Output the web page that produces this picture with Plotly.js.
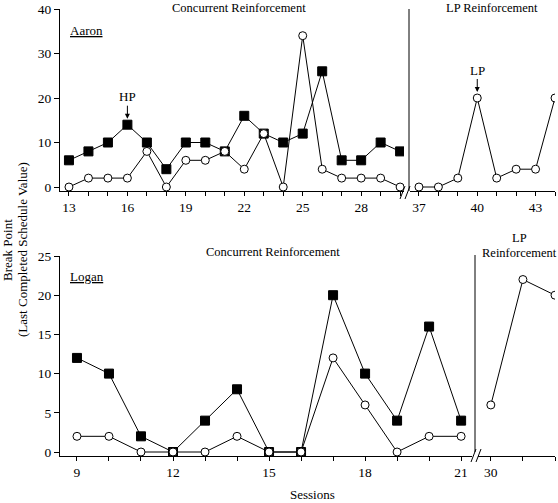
<!DOCTYPE html>
<html>
<head>
<meta charset="utf-8">
<script src="https://cdn.plot.ly/plotly-3.0.1.min.js"></script>
<style>html,body{margin:0;padding:0;background:#fff;}#chart{width:558px;height:503px;}</style>
</head>
<body>
<div id="chart"></div>
<script>
// ---- Data ----
const aaronConcSessions = [13,14,15,16,17,18,19,20,21,22,23,24,25,26,27,28,29,30];
const aaronHP = [6,8,10,14,10,4,10,10,8,16,12,10,12,26,6,6,10,8];
const aaronLP = [0,2,2,2,8,0,6,6,8,4,12,0,34,4,2,2,2,0];
const aaronLPSessions = [37,38,39,40,41,42,43,44];
const aaronLPOnly = [0,0,2,20,2,4,4,20];

const loganConcSessions = [9,10,11,12,13,14,15,16,17,18,19,20,21];
const loganHP = [12,10,2,0,4,8,0,0,20,10,4,16,4];
const loganLP = [2,2,0,0,0,2,0,0,12,6,0,2,2];
const loganLPSessions = [30,31,32];
const loganLPOnly = [6,22,20];

const aaronLeftTicks = [13,16,19,22,25,28];
const aaronRightTicks = [37,40,43];
const loganLeftTicks = [9,12,15,18,21];
const loganRightTicks = [30];
const aaronYTicks = [0,10,20,30,40];
const loganYTicks = [0,5,10,15,20,25];

// ---- Helpers ----
const L = 60, R = 3, T = 9, B = 47, W = 558, H = 503;
const PW = W - L - R, PH = H - T - B;
const px = x => (x - L) / PW;
const py = y => (H - B - y) / PH;
const FONT = "'Liberation Serif', 'Times New Roman', 'DejaVu Serif', serif";

function allTicks(vals, labeled) {
  const tv = [], tt = [];
  for (let v = vals[0]; v <= vals[vals.length - 1]; v++) {
    tv.push(v);
    tt.push(labeled.indexOf(v) >= 0 ? String(v) : "");
  }
  return {tv, tt};
}

const hpStyle = {mode: 'lines+markers', line: {color: '#000', width: 1},
  marker: {symbol: 'square', size: 9, color: '#000', line: {color: '#000', width: 1}}};
const lpStyle = {mode: 'lines+markers', line: {color: '#000', width: 1},
  marker: {symbol: 'circle', size: 8, color: '#fff', line: {color: '#000', width: 1}}};

const traces = [
  Object.assign({x: aaronConcSessions, y: aaronHP, xaxis: 'x', yaxis: 'y'}, hpStyle),
  Object.assign({x: aaronConcSessions, y: aaronLP, xaxis: 'x', yaxis: 'y'}, lpStyle),
  Object.assign({x: aaronLPSessions, y: aaronLPOnly, xaxis: 'x2', yaxis: 'y2'}, lpStyle),
  Object.assign({x: loganConcSessions, y: loganHP, xaxis: 'x3', yaxis: 'y3'}, hpStyle),
  Object.assign({x: loganConcSessions, y: loganLP, xaxis: 'x3', yaxis: 'y3'}, lpStyle),
  Object.assign({x: loganLPSessions, y: loganLPOnly, xaxis: 'x4', yaxis: 'y4'}, lpStyle)
];

const xbase = {showline: true, linecolor: '#000', linewidth: 1, ticks: 'outside', ticklen: 4,
  tickcolor: '#000', showgrid: false, zeroline: false, tickmode: 'array',
  tickfont: {family: FONT, size: 13.5, color: '#000'}};
const ybase = {showline: true, linecolor: '#000', linewidth: 1, ticks: 'outside', ticklen: 5,
  tickcolor: '#000', showgrid: false, zeroline: false, tickmode: 'array',
  tickfont: {family: FONT, size: 13.5, color: '#000'}};

const t1 = allTicks(aaronConcSessions, aaronLeftTicks);
const t2 = allTicks(aaronLPSessions, aaronRightTicks);
const t3 = allTicks(loganConcSessions, loganLeftTicks);
const t4 = allTicks(loganLPSessions, loganRightTicks);

const topDom = [py(191), 1];
const botDom = [0, py(256)];

function note(text, x, y, extra) {
  return Object.assign({text: text, xref: 'paper', yref: 'paper', x: px(x), y: py(y),
    xanchor: 'center', yanchor: 'middle', showarrow: false,
    font: {family: FONT, size: 12.5, color: '#000'}}, extra || {});
}

const layout = {
  width: W, height: H, margin: {l: L, r: R, t: T, b: B},
  paper_bgcolor: '#fff', plot_bgcolor: 'rgba(0,0,0,0)', showlegend: false,
  font: {family: FONT, color: '#000', size: 13},
  xaxis: Object.assign({}, xbase, {domain: [0, px(404)], range: [12.54, 30.2],
    tickvals: t1.tv, ticktext: t1.tt, anchor: 'y'}),
  yaxis: Object.assign({}, ybase, {domain: topDom, range: [-0.9, 40],
    tickvals: aaronYTicks, anchor: 'x'}),
  xaxis2: Object.assign({}, xbase, {domain: [px(410), 1], range: [36.54, 44],
    tickvals: t2.tv, ticktext: t2.tt, anchor: 'y2'}),
  yaxis2: {domain: topDom, range: [-0.9, 40], visible: false, anchor: 'x2'},
  xaxis3: Object.assign({}, xbase, {domain: [0, px(472)], range: [8.47, 21.34],
    tickvals: t3.tv, ticktext: t3.tt, anchor: 'y3'}),
  yaxis3: Object.assign({}, ybase, {domain: botDom, range: [-0.51, 25],
    tickvals: loganYTicks, anchor: 'x3'}),
  xaxis4: Object.assign({}, xbase, {domain: [px(478), 1], range: [29.6, 32],
    tickvals: t4.tv, ticktext: t4.tt, anchor: 'y4'}),
  yaxis4: {domain: botDom, range: [-0.51, 25], visible: false, anchor: 'x4'},
  shapes: [
    {type: 'line', xref: 'paper', yref: 'paper', x0: px(409), x1: px(409), y0: py(9), y1: py(191), line: {color: '#000', width: 1}},
    {type: 'line', xref: 'paper', yref: 'paper', x0: px(475), x1: px(475), y0: py(255), y1: py(452), line: {color: '#000', width: 1}},
    {type: 'line', xref: 'paper', yref: 'paper', x0: px(400), x1: px(405), y0: py(199), y1: py(186), line: {color: '#000', width: 1}},
    {type: 'line', xref: 'paper', yref: 'paper', x0: px(405), x1: px(410), y0: py(199), y1: py(186), line: {color: '#000', width: 1}},
    {type: 'line', xref: 'paper', yref: 'paper', x0: px(471), x1: px(476), y0: py(462), y1: py(449), line: {color: '#000', width: 1}},
    {type: 'line', xref: 'paper', yref: 'paper', x0: px(476), x1: px(481), y0: py(462), y1: py(449), line: {color: '#000', width: 1}}
  ],
  annotations: [
    note('Concurrent Reinforcement', 239, 8),
    note('LP Reinforcement', 492, 8),
    note('Concurrent Reinforcement', 273, 252),
    note('LP', 519, 238),
    note('Reinforcement', 519, 253),
    note('<u>Aaron</u>', 68, 30, {xanchor: 'left', font: {family: FONT, size: 13, color: '#000'}}),
    note('<u>Logan</u>', 68, 276, {xanchor: 'left', font: {family: FONT, size: 13, color: '#000'}}),
    {text: 'HP', xref: 'x', yref: 'y', x: aaronConcSessions[3], y: aaronHP[3], ax: 0, ay: -28, showarrow: true,
      arrowhead: 2, arrowsize: 1, arrowwidth: 1, arrowcolor: '#000', standoff: 6, font: {family: FONT, size: 13}},
    {text: 'LP', xref: 'x2', yref: 'y2', x: aaronLPSessions[3], y: aaronLPOnly[3], ax: 0, ay: -28, showarrow: true,
      arrowhead: 2, arrowsize: 1, arrowwidth: 1, arrowcolor: '#000', standoff: 6, font: {family: FONT, size: 13}},
    note('Break Point', 8, 250, {textangle: -90, font: {family: FONT, size: 13, color: '#000'}}),
    note('(Last Completed Schedule Value)', 23, 250, {textangle: -90, font: {family: FONT, size: 13, color: '#000'}}),
    note('Sessions', 312, 494, {font: {family: FONT, size: 13, color: '#000'}})
  ]
};

Plotly.newPlot('chart', traces, layout, {displayModeBar: false, staticPlot: true});
</script>
</body>
</html>
